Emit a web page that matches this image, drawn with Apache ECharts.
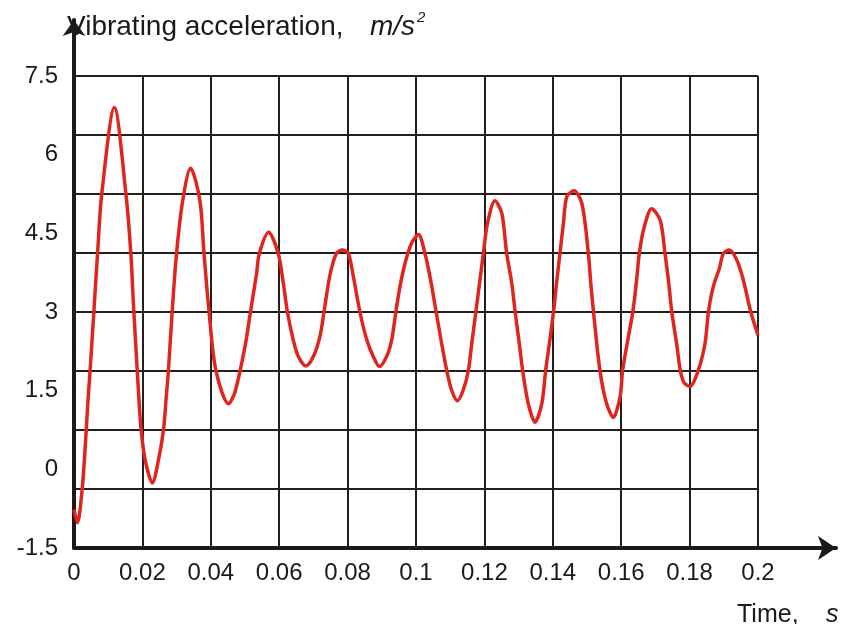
<!DOCTYPE html>
<html>
<head>
<meta charset="utf-8">
<script src="https://cdn.jsdelivr.net/npm/echarts@6/dist/echarts.min.js"></script>
<style>
html,body{margin:0;padding:0;background:#fff;}
#c{width:846px;height:624px;}
</style>
</head>
<body>
<div id="c"></div>
<script>
// Time, s
const times = [
  0, 0.0010, 0.0024, 0.0034, 0.0041, 0.0047, 0.0058, 0.0069, 0.0081, 0.0118,
  0.0152, 0.0166, 0.0175, 0.0185, 0.0190, 0.0196, 0.0208, 0.0229, 0.0247, 0.0262,
  0.0269, 0.0276, 0.0287, 0.0300, 0.0318, 0.0341, 0.0368, 0.0380, 0.0395, 0.0415,
  0.0452, 0.0471, 0.0500, 0.0516, 0.0534, 0.0542, 0.0569, 0.0597, 0.0612, 0.0624,
  0.0641, 0.0656, 0.0678, 0.0700, 0.0719, 0.0731, 0.0744, 0.0754, 0.0768, 0.0785,
  0.0802, 0.0817, 0.0836, 0.0856, 0.0875, 0.0893, 0.0914, 0.0929, 0.0941, 0.0953,
  0.0968, 0.0987, 0.1007, 0.1026, 0.1041, 0.1059, 0.1075, 0.1090, 0.1104, 0.1121,
  0.1138, 0.1153, 0.1163, 0.1175, 0.1187, 0.1197, 0.1209, 0.1231, 0.1251, 0.1265,
  0.1280, 0.1290, 0.1302, 0.1312, 0.1328, 0.1348, 0.1368, 0.1379, 0.1390, 0.1402,
  0.1411, 0.1421, 0.1431, 0.1441, 0.1462, 0.1485, 0.1504, 0.1511, 0.1519, 0.1538,
  0.1557, 0.1577, 0.1597, 0.1604, 0.1621, 0.1634, 0.1645, 0.1653, 0.1665, 0.1689,
  0.1714, 0.1728, 0.1738, 0.1748, 0.1762, 0.1773, 0.1784, 0.1801, 0.1825, 0.1845,
  0.1855, 0.1869, 0.1887, 0.1899, 0.1916, 0.1938, 0.1957, 0.1979, 0.2000
];
// Vibrating acceleration, m/s^2
const accel = [
  -0.77, -1.02, -0.37, 0.56, 1.32, 1.88, 3.0, 4.13, 5.24, 6.90,
  5.24, 4.13, 3.0, 1.88, 1.32, 0.77, 0.18, -0.26, 0.18, 0.77,
  1.32, 1.88, 3.0, 4.13, 5.13, 5.74, 5.13, 4.13, 3.0, 1.88,
  1.25, 1.48, 2.34, 3.0, 3.74, 4.12, 4.52, 4.12, 3.55, 3.0,
  2.47, 2.15, 1.97, 2.15, 2.53, 3.0, 3.55, 3.86, 4.12, 4.18,
  4.12, 3.67, 3.0, 2.47, 2.15, 1.96, 2.15, 2.47, 3.0, 3.48,
  3.93, 4.31, 4.48, 4.12, 3.67, 3.0, 2.40, 1.88, 1.51, 1.31,
  1.51, 1.88, 2.40, 3.0, 3.61, 4.12, 4.69, 5.12, 4.88, 4.12,
  3.55, 3.0, 2.40, 1.88, 1.26, 0.90, 1.26, 1.88, 2.40, 3.0,
  3.55, 4.12, 4.69, 5.20, 5.31, 5.07, 4.12, 3.55, 3.0, 1.88,
  1.26, 0.99, 1.39, 1.88, 2.53, 3.0, 3.61, 4.12, 4.56, 4.97,
  4.75, 4.12, 3.61, 3.0, 2.40, 1.88, 1.65, 1.58, 1.88, 2.40,
  3.0, 3.48, 3.83, 4.12, 4.18, 3.99, 3.61, 3.0, 2.56
];
// Axis ticks
const xTicks = { min: 0, max: 0.2, step: 0.02 };
const yTicks = { min: -1.5, max: 7.5, step: 1.5 };
const yGridDivisions = 8;

const FONT = 'Liberation Sans, Arial, sans-serif';
const INK = '#1a1a1a';
const data = times.map((t, i) => [t, accel[i]]);

function txt(text, left, top, size, italic) {
  return {
    text: text, left: left, top: top, padding: 0,
    textStyle: { fontFamily: FONT, fontSize: size, fontWeight: 'normal', fontStyle: italic ? 'italic' : 'normal', color: INK, lineHeight: size }
  };
}

const chart = echarts.init(document.getElementById('c'), null, { renderer: 'canvas' });
chart.setOption({
  animation: false,
  backgroundColor: '#ffffff',
  title: [
    txt('Vibrating acceleration,', 67, 13, 28, false),
    txt('m/s', 370, 13, 28, true),
    txt('2', 417, 10, 15, true),
    txt('Time,', 737, 603, 25, false),
    txt('s', 826, 603, 25, true)
  ],
  grid: [
    { left: 74, right: 88, top: 76, bottom: 76, outerBoundsMode: 'none', containLabel: false },
    { left: 74, right: 10, top: 20, bottom: 76, outerBoundsMode: 'none', containLabel: false }
  ],
  xAxis: [
    {
      type: 'value', gridIndex: 0, min: xTicks.min, max: xTicks.max, interval: xTicks.step,
      axisLine: { show: false }, axisTick: { show: false },
      axisLabel: {
        show: true, margin: 13, color: INK, fontFamily: FONT, fontSize: 24,
        formatter: v => String(Number(v.toFixed(2)))
      },
      splitLine: { show: true, lineStyle: { color: '#231f1c', width: 2 } }
    },
    {
      type: 'value', gridIndex: 1, min: 0, max: 1,
      axisLine: { show: true, symbol: ['none', 'arrow'], symbolSize: [18, 18], lineStyle: { color: '#1e1a17', width: 4 } },
      axisTick: { show: false }, axisLabel: { show: false }, splitLine: { show: false }
    }
  ],
  yAxis: [
    {
      type: 'value', gridIndex: 0, min: yTicks.min, max: yTicks.max, interval: yTicks.step,
      axisLine: { show: false }, axisTick: { show: false },
      axisLabel: { show: true, margin: 16, color: INK, fontFamily: FONT, fontSize: 24 },
      splitLine: { show: false }
    },
    {
      type: 'value', gridIndex: 0, position: 'right', min: 0, max: yGridDivisions, interval: 1,
      axisLine: { show: false }, axisTick: { show: false }, axisLabel: { show: false },
      splitLine: { show: true, lineStyle: { color: '#231f1c', width: 2 } }
    },
    {
      type: 'value', gridIndex: 1, min: 0, max: 1,
      axisLine: { show: true, symbol: ['none', 'arrow'], symbolSize: [17, 16], lineStyle: { color: '#1e1a17', width: 4 } },
      axisTick: { show: false }, axisLabel: { show: false }, splitLine: { show: false }
    }
  ],
  series: [
    {
      type: 'line', xAxisIndex: 0, yAxisIndex: 0, data: data,
      smooth: 0.3, showSymbol: false, symbol: 'none',
      lineStyle: { color: '#df251e', width: 3.5 },
      z: 5
    }
  ]
});
</script>
</body>
</html>
